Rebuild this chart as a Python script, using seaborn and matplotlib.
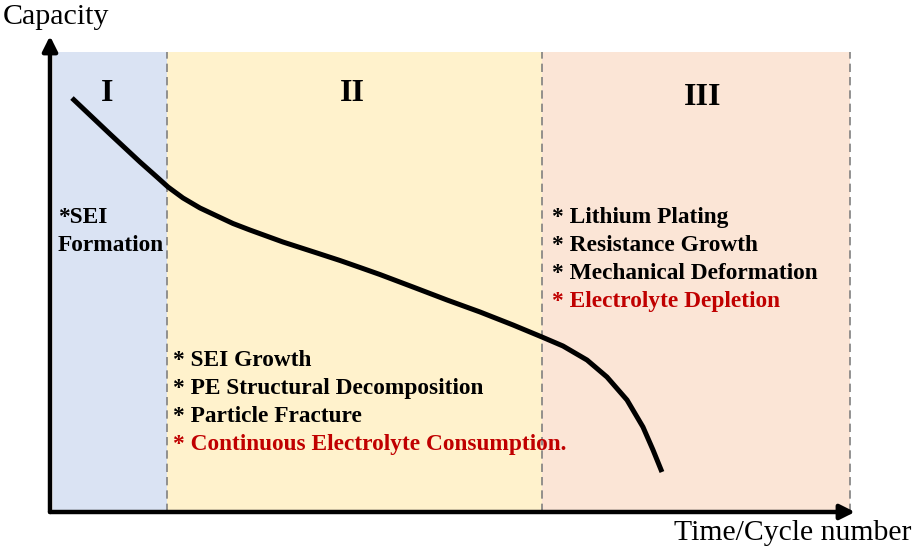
import numpy as np
import pandas as pd
import seaborn as sns
import matplotlib.pyplot as plt

# curva de capacidade (esquemática, unidades arbitrárias)
ciclo = [2.73, 7.45, 11.18, 13.42, 14.66, 16.52, 18.63, 20.75, 22.73, 24.84, 28.94, 33.17,
         36.02, 38.51, 40.99, 45.09, 49.32, 53.42, 57.52, 61.12, 63.73, 66.71, 69.19, 71.68,
         73.66, 74.91, 76.02]
capacidade = [86.97, 79.41, 73.53, 70.17, 68.28, 65.97, 63.87, 62.18, 60.61, 59.24, 56.72, 54.41,
              52.84, 51.37, 49.89, 47.27, 44.54, 42.02, 39.29, 36.76, 34.87, 31.93, 28.36, 23.53,
              17.86, 13.03, 8.40]

# limites das regiões
limites = [0.4, 14.5, 61.1, 99.4]
topo_regiao = 96.6
cores_regiao = ['#dae3f3', '#fff2cc', '#fbe5d6']
nomes_regiao = ['I', 'II', 'III']

texto_I = ['*SEI', 'Formation']
texto_II = ['* SEI Growth', '* PE Structural Decomposition', '* Particle Fracture',
            '* Continuous Electrolyte Consumption.']
texto_III = ['* Lithium Plating', '* Resistance Growth', '* Mechanical Deformation',
             '* Electrolyte Depletion']

sns.set_style('white')
plt.rcParams['font.family'] = ['Liberation Serif', 'DejaVu Serif']
plt.rcParams['text.color'] = 'black'

fig = plt.figure(figsize=(9.18, 5.59), dpi=100)
ax = fig.add_axes([50 / 918, 47 / 559, 805 / 918, 476 / 559])
ax.set_xlim(0, 100)
ax.set_ylim(0, 100)
ax.axis('off')

for i in range(3):
    ax.fill_between([limites[i], limites[i + 1]], 0, topo_regiao, color=cores_regiao[i], lw=0, zorder=0)
for xl in limites[1:]:
    ax.plot([xl, xl], [0, topo_regiao], color='#808080', lw=1.2, ls=(0, (5, 3)), zorder=1)

df = pd.DataFrame({'ciclo': ciclo, 'capacidade': capacidade})
sns.lineplot(data=df, x='ciclo', y='capacidade', sort=False, color='black', lw=3.6, ax=ax,
             zorder=3, solid_capstyle='butt', solid_joinstyle='round')

# nomes das regiões
pos_nomes = [(7.08, 88.0), (37.6, 88.0), (81.1, 87.0)]
for nome, (xn, yn) in zip(nomes_regiao, pos_nomes):
    ax.text(xn, yn, nome, ha='center', va='center', fontsize=23, fontweight='bold', color='black')

for k, linha in enumerate(texto_I):
    ax.text(0.99, 61.8 - 5.9 * k, linha, ha='left', va='center', fontsize=16.8, fontweight='bold', color='black')

for k, linha in enumerate(texto_II):
    cor = '#c00000' if k == 3 else 'black'
    ax.text(15.3, 31.9 - 5.88 * k, linha, ha='left', va='center', fontsize=16.8, fontweight='bold', color=cor)

for k, linha in enumerate(texto_III):
    cor = '#c00000' if k == 3 else 'black'
    ax.text(62.4, 61.8 - 5.88 * k, linha, ha='left', va='center', fontsize=16.8, fontweight='bold', color=cor)

# eixos com setas
seta = dict(arrowstyle='-|>', lw=3.2, color='black', mutation_scale=22, shrinkA=0, shrinkB=0)
ax.annotate('', xy=(0, 1.0), xytext=(0, 0), xycoords='axes fraction', arrowprops=seta, annotation_clip=False)
ax.annotate('', xy=(1.0, 0), xytext=(0, 0), xycoords='axes fraction', arrowprops=seta, annotation_clip=False)

fig.text(3 / 918, 0.970, 'Capacity', ha='left', va='center', fontsize=21.6, color='black')
fig.text(912 / 918, 0.0465, 'Time/Cycle number', ha='right', va='center', fontsize=21.4, color='black')

fig.savefig('out.png', dpi=100)
